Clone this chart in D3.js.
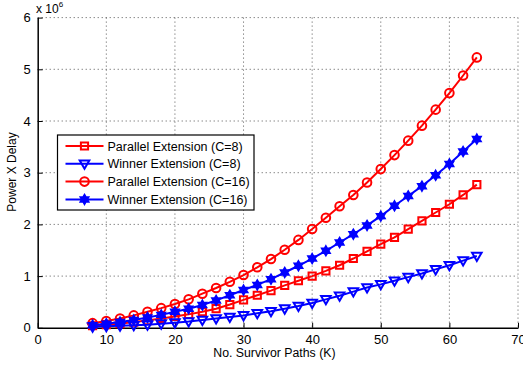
<!DOCTYPE html>
<html>
<head>
<meta charset="utf-8">
<style>
  body { margin: 0; background: #fff; }
  svg { display: block; font-family: "Liberation Sans", Arial, sans-serif; }
</style>
<script src="https://cdn.jsdelivr.net/npm/d3@7"></script>
</head>
<body>
<div id="chart"></div>
<script>
// survivor paths K
var kValues = [8,10,12,14,16,18,20,22,24,26,28,30,32,34,36,38,40,42,44,46,48,50,52,54,56,58,60,62,64];

// power x delay, in units of 10^6
var parallel8 = [0.04,0.06,0.08,0.11,0.14,0.18,0.22,0.26,0.31,0.37,0.45,0.54,0.63,0.72,0.82,0.91,1.00,1.10,1.21,1.34,1.48,1.62,1.75,1.91,2.07,2.23,2.39,2.57,2.77];
var winner8   = [0.02,0.03,0.04,0.05,0.06,0.08,0.10,0.12,0.15,0.18,0.21,0.24,0.28,0.32,0.37,0.42,0.48,0.55,0.62,0.70,0.78,0.84,0.91,0.98,1.05,1.13,1.21,1.30,1.39];
var parallel16 = [0.09,0.13,0.18,0.24,0.31,0.38,0.46,0.55,0.66,0.77,0.89,1.02,1.17,1.33,1.51,1.70,1.91,2.13,2.35,2.57,2.81,3.07,3.34,3.62,3.91,4.22,4.54,4.88,5.23];
var winner16  = [0.05,0.08,0.11,0.15,0.20,0.25,0.31,0.37,0.44,0.53,0.63,0.73,0.83,0.94,1.07,1.20,1.34,1.49,1.65,1.81,1.98,2.16,2.36,2.55,2.74,2.95,3.17,3.41,3.65];

var xTicks = [0,10,20,30,40,50,60,70];
var yTicks = [0,1,2,3,4,5,6];

var seriesNames = ["Parallel Extension (C=8)", "Winner Extension (C=8)", "Parallel Extension (C=16)", "Winner Extension (C=16)"];

var width = 523, height = 371;
var margin = {top: 17.6, right: 5, bottom: 43.2, left: 37.7};
var w = width - margin.left - margin.right,
    h = height - margin.top - margin.bottom;

var svg = d3.select("#chart").append("svg")
  .attr("width", width).attr("height", height);

var g = svg.append("g").attr("transform", "translate(" + margin.left + "," + margin.top + ")");

var x = d3.scaleLinear().domain([0, 70]).range([0, w]);
var y = d3.scaleLinear().domain([0, 6]).range([h, 0]);

// dotted grid
g.append("g").selectAll("line").data(xTicks.slice(1)).enter().append("line")
  .attr("x1", d => x(d)).attr("x2", d => x(d)).attr("y1", 0).attr("y2", h)
  .attr("stroke", "#555").attr("stroke-width", 1).attr("stroke-dasharray", "1,3");
g.append("g").selectAll("line").data(yTicks.slice(1)).enter().append("line")
  .attr("x1", 0).attr("x2", w).attr("y1", d => y(d)).attr("y2", d => y(d))
  .attr("stroke", "#555").attr("stroke-width", 1).attr("stroke-dasharray", "1,3");

// axes, ticks pointing inward
var xAxis = g.append("g").attr("transform", "translate(0," + h + ")")
  .call(d3.axisBottom(x).tickValues(xTicks).tickFormat(d3.format("d"))
    .tickSizeInner(-5).tickSizeOuter(0).tickPadding(7));
var yAxis = g.append("g")
  .call(d3.axisLeft(y).tickValues(yTicks).tickFormat(d3.format("d"))
    .tickSizeInner(-5).tickSizeOuter(0).tickPadding(7));
[xAxis, yAxis].forEach(function(a) {
  a.select(".domain").attr("stroke", "#000").attr("stroke-width", 1.5);
  a.selectAll(".tick line").attr("stroke", "#000");
  a.selectAll(".tick text").style("font-size", "13px").attr("fill", "#000")
    .style("font-family", "'Liberation Sans', Arial, sans-serif");
});

// markers
function hexagram(r) {
  var p = [];
  for (var i = 0; i < 12; i++) {
    var a = Math.PI / 6 * i - Math.PI / 2;
    var rr = i % 2 === 0 ? r : r * 0.58;
    p.push([rr * Math.cos(a), rr * Math.sin(a)]);
  }
  return "M" + p.map(q => q[0].toFixed(2) + "," + q[1].toFixed(2)).join("L") + "Z";
}
function markerPath(type) {
  if (type === "square") return "M-3.6,-3.6L3.6,-3.6L3.6,3.6L-3.6,3.6Z";
  if (type === "circle") return "M4.3,0A4.3,4.3 0 1,1 -4.3,0A4.3,4.3 0 1,1 4.3,0Z";
  if (type === "tri") return "M-4.8,-3.3L4.8,-3.3L0,5Z";
  return hexagram(5);
}

var series = [
  {name: seriesNames[0], values: parallel8, color: "#ff0000", marker: "square"},
  {name: seriesNames[1], values: winner8, color: "#0000ff", marker: "tri"},
  {name: seriesNames[2], values: parallel16, color: "#ff0000", marker: "circle"},
  {name: seriesNames[3], values: winner16, color: "#0000ff", marker: "star"}
];

var line = d3.line().x((d, i) => x(kValues[i])).y(d => y(d));

series.forEach(function(s) {
  var sg = g.append("g");
  sg.append("path").datum(s.values)
    .attr("d", line).attr("fill", "none")
    .attr("stroke", s.color).attr("stroke-width", 2);
  sg.selectAll("path.m").data(s.values).enter().append("path")
    .attr("transform", (d, i) => "translate(" + x(kValues[i]) + "," + y(d) + ")")
    .attr("d", markerPath(s.marker))
    .attr("fill", s.marker === "star" ? s.color : "none")
    .attr("stroke", s.color).attr("stroke-width", s.marker === "star" ? 1.5 : 2);
});

// legend
var lg = svg.append("g").attr("transform", "translate(57.5,135)");
lg.append("rect").attr("width", 196.5).attr("height", 75)
  .attr("fill", "#fff").attr("stroke", "#000").attr("stroke-width", 1.2);
series.forEach(function(s, i) {
  var yy = 11 + i * 17.8;
  lg.append("line").attr("x1", 8).attr("x2", 46).attr("y1", yy).attr("y2", yy)
    .attr("stroke", s.color).attr("stroke-width", 2);
  lg.append("path").attr("transform", "translate(27," + yy + ")")
    .attr("d", markerPath(s.marker))
    .attr("fill", s.marker === "star" ? s.color : "none")
    .attr("stroke", s.color).attr("stroke-width", s.marker === "star" ? 1.5 : 2);
  lg.append("text").attr("x", 50).attr("y", yy + 4.5)
    .style("font-size", "12.5px").text(s.name);
});

// axis labels
svg.append("text").attr("x", margin.left + x(34.5)).attr("y", 357)
  .attr("text-anchor", "middle").style("font-size", "12.3px")
  .text("No. Survivor Paths (K)");
svg.append("text").attr("transform", "translate(16,172) rotate(-90)")
  .attr("text-anchor", "middle").style("font-size", "12px")
  .text("Power X Delay");

// exponent label
var ex = svg.append("text").attr("x", 36).attr("y", 13).style("font-size", "12px");
ex.append("tspan").text("x 10");
ex.append("tspan").attr("dy", -6).style("font-size", "8px").text("6");
</script>
</body>
</html>
